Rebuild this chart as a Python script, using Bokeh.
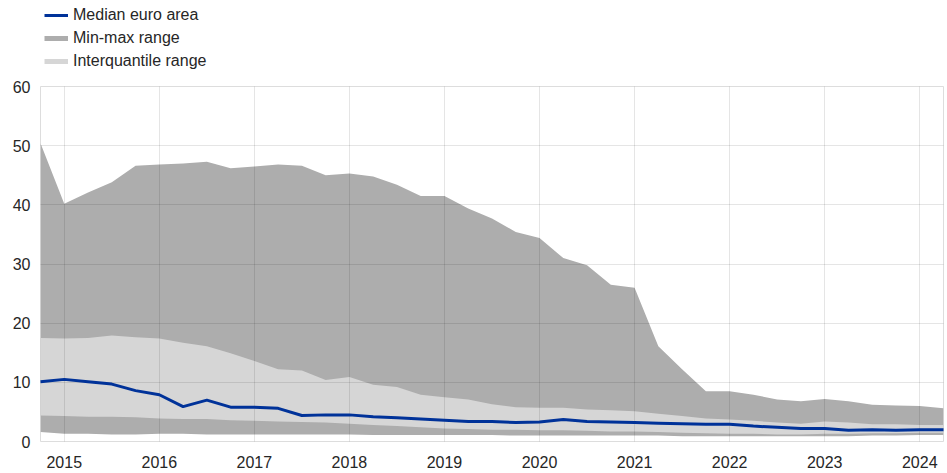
from bokeh.plotting import figure
from bokeh.layouts import column
from bokeh.models import Legend, LegendItem, ColumnDataSource, FixedTicker, Range1d
from bokeh.embed import file_html
from bokeh.resources import INLINE

# Quarterly observations, 2014 Q4 to 2024 Q2
years = [2014 + q / 4 for q in range(3, 3 + 39)]

min_vals = [1.6, 1.3, 1.3, 1.2, 1.2, 1.3, 1.3, 1.2, 1.2, 1.2, 1.2, 1.2,
            1.2, 1.2, 1.1, 1.1, 1.1, 1.1, 1.1, 1.1, 1.0, 1.0, 1.0, 1.0,
            1.0, 1.0, 1.0, 0.9, 0.9, 0.9, 0.9, 0.9, 0.9, 0.9, 0.9, 1.0,
            1.0, 1.1, 1.1]
max_vals = [50.4, 40.2, 42.1, 43.8, 46.6, 46.8, 47.0, 47.3, 46.2, 46.5, 46.8, 46.6,
            45.0, 45.3, 44.8, 43.4, 41.5, 41.5, 39.4, 37.7, 35.4, 34.4, 31.0, 29.8,
            26.5, 26.0, 16.1, 12.2, 8.5, 8.5, 7.9, 7.1, 6.8, 7.2, 6.8, 6.2,
            6.1, 6.0, 5.6]
q25_vals = [4.4, 4.3, 4.2, 4.2, 4.1, 3.9, 3.8, 3.8, 3.6, 3.5, 3.4, 3.3,
            3.2, 3.0, 2.8, 2.6, 2.4, 2.2, 2.1, 2.0, 2.0, 1.9, 1.9, 1.8,
            1.7, 1.7, 1.6, 1.5, 1.4, 1.3, 1.3, 1.2, 1.2, 1.3, 1.3, 1.4,
            1.4, 1.5, 1.5]
q75_vals = [17.5, 17.4, 17.5, 17.9, 17.6, 17.4, 16.7, 16.1, 14.9, 13.6, 12.2, 12.0,
            10.4, 10.9, 9.6, 9.2, 7.9, 7.5, 7.1, 6.3, 5.8, 5.7, 5.7, 5.4,
            5.3, 5.1, 4.7, 4.3, 3.9, 3.7, 3.5, 3.2, 3.0, 3.4, 3.2, 2.9,
            2.9, 2.8, 2.8]
median_vals = [10.1, 10.5, 10.1, 9.7, 8.6, 7.9, 5.9, 7.0, 5.8, 5.8, 5.6, 4.4,
               4.5, 4.5, 4.2, 4.0, 3.8, 3.6, 3.4, 3.4, 3.2, 3.3, 3.7, 3.4,
               3.3, 3.2, 3.1, 3.0, 2.9, 2.9, 2.6, 2.4, 2.2, 2.2, 1.9, 2.0,
               1.9, 2.0, 2.0]

year_ticks = list(range(2015, 2025))
y_ticks = [0, 10, 20, 30, 40, 50, 60]

labels = ["Median euro area", "Min-max range", "Interquantile range"]

BLUE = "#003299"
DARK = "#adadad"
LIGHT = "#d6d6d6"
FONT = "Liberation Sans"
TEXT = "#262626"
SIZE = "16px"

src = ColumnDataSource(dict(x=years, lo=min_vals, hi=max_vals,
                            q25=q25_vals, q75=q75_vals, med=median_vals))

# --- legend strip on top (its frame lines up with the chart frame) ---
leg = figure(width=947, height=76, output_backend="svg", toolbar_location=None,
             x_range=Range1d(0, 1), y_range=Range1d(0, 1),
             min_border_left=40, min_border_top=1, min_border_right=4,
             min_border_bottom=0)
leg.axis.visible = False
leg.grid.visible = False
leg.outline_line_color = None

# swatch renderers sit outside the visible range; only their legend glyphs show
r_med = leg.line([5, 6], [5, 6], line_color=BLUE, line_width=3)
r_mm = leg.line([5, 6], [5, 6], line_color=DARK, line_width=5)
r_iq = leg.line([5, 6], [5, 6], line_color=LIGHT, line_width=5)

legend = Legend(items=[LegendItem(label=labels[0], renderers=[r_med]),
                       LegendItem(label=labels[1], renderers=[r_mm]),
                       LegendItem(label=labels[2], renderers=[r_iq])],
                orientation="vertical", location="top_left",
                glyph_width=24, glyph_height=20, label_height=20,
                spacing=3, padding=4, margin=4, label_standoff=5,
                label_text_font=FONT, label_text_font_size=SIZE,
                label_text_color=TEXT,
                border_line_color=None, background_fill_alpha=0)
leg.add_layout(legend)

# --- main chart ---
p = figure(width=947, height=397, output_backend="svg", toolbar_location=None,
           x_range=Range1d(years[0], years[-1]), y_range=Range1d(0, 60),
           min_border_left=40, min_border_right=4, min_border_bottom=32,
           min_border_top=10)

p.varea(x="x", y1="lo", y2="hi", source=src, fill_color=DARK)
p.varea(x="x", y1="q25", y2="q75", source=src, fill_color=LIGHT)
p.line(x="x", y="med", source=src, line_color=BLUE, line_width=3,
       level="overlay")

for g in (p.xgrid[0], p.ygrid[0]):
    g.grid_line_color = "black"
    g.grid_line_alpha = 0.1
    g.level = "annotation"
p.xgrid.ticker = FixedTicker(ticks=year_ticks)
p.ygrid.ticker = FixedTicker(ticks=y_ticks)

p.xaxis.ticker = FixedTicker(ticks=year_ticks)
p.yaxis.ticker = FixedTicker(ticks=y_ticks)
for ax in (p.xaxis[0], p.yaxis[0]):
    ax.axis_line_color = None
    ax.major_tick_line_color = None
    ax.minor_tick_line_color = None
    ax.major_tick_out = 0
    ax.major_label_text_font = FONT
    ax.major_label_text_font_size = SIZE
    ax.major_label_text_color = TEXT
p.yaxis.major_label_standoff = 10
p.xaxis.major_label_standoff = 14

p.outline_line_color = "#dddddd"
p.background_fill_color = "white"
p.border_fill_color = "white"

layout = column(leg, p, spacing=0)
open("out.html", "w").write(file_html(layout, INLINE))
